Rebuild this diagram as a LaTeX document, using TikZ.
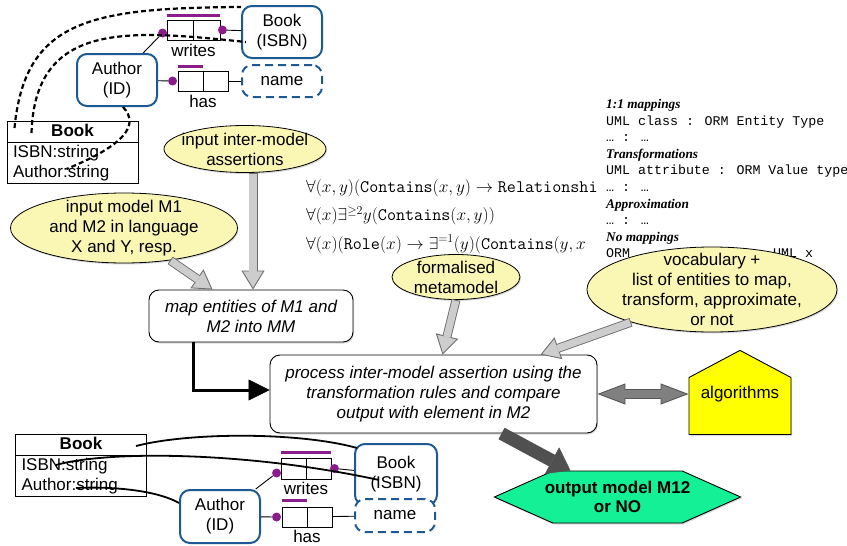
\documentclass[tikz,border=0pt]{standalone}
\usepackage{amsmath}
\usepackage{amssymb}
\usepackage[no-math]{fontspec}
\setmainfont{Liberation Sans}
\newfontfamily\courierfont{Liberation Mono}
\newfontfamily\timesfont{Liberation Serif}
\usepackage{tikz}
\usetikzlibrary{positioning, arrows.meta, shapes, shadows}

\definecolor{ormblue}{RGB}{31,89,148}
\definecolor{rolepurple}{RGB}{140,28,140}
\definecolor{noteyellow}{RGB}{250,246,180}
\definecolor{algyellow}{RGB}{255,255,0}
\definecolor{outgreen}{RGB}{20,240,150}
\definecolor{fatfill}{RGB}{205,205,205}
\definecolor{fatline}{RGB}{110,110,110}
\definecolor{dblfill}{RGB}{128,128,128}
\definecolor{dblline}{RGB}{85,85,85}
\definecolor{heavygrey}{RGB}{80,80,80}

\begin{document}
\begin{tikzpicture}[x=1pt, y=-1pt, font=\fontsize{17}{20}\selectfont]
\tikzstyle{orment}=[rectangle, draw=ormblue, line width=2pt, rounded corners=10pt, minimum width=80pt,
        minimum height=52pt, inner sep=0pt, align=center, fill=white]
\tikzstyle{ormval}=[orment, dash pattern=on 8pt off 5pt, minimum height=32pt]
\tikzstyle{role}=[rectangle, draw=black, line width=0.9pt, minimum width=52pt, minimum height=20pt, inner sep=0pt, fill=white]
\tikzstyle{rolename}=[inner sep=0pt]
\tikzstyle{dot}=[circle, fill=rolepurple, inner sep=0pt, minimum size=9pt]
\tikzstyle{uniq}=[rolepurple, line width=2.5pt]
\tikzstyle{ormline}=[-, line width=0.9pt]
\tikzstyle{umlclass}=[rectangle, rectangle split, rectangle split parts=2, draw=black, line width=1pt,
        text width=119pt, align=left, inner xsep=6pt, inner ysep=0pt, fill=white, anchor=north]
\tikzstyle{mapdash}=[-, line width=2.2pt, dash pattern=on 5pt off 3pt]
\tikzstyle{mapline}=[-, line width=1.8pt]
\tikzstyle{note}=[ellipse, draw=black, line width=0.8pt, fill=noteyellow, inner sep=-12pt, align=center,
        drop shadow={opacity=0.3, shadow xshift=1pt, shadow yshift=-1.5pt}]
\tikzstyle{task}=[rectangle, draw=black, line width=0.9pt, rounded corners=10pt, fill=white, align=center,
        inner sep=0pt, font=\fontsize{17}{20}\selectfont\itshape,
        drop shadow={opacity=0.3, shadow xshift=1pt, shadow yshift=-1.5pt}]
\tikzstyle{house}=[signal, signal to=north, signal from=nowhere, signal pointer angle=124, draw=black,
        line width=0.9pt, fill=algyellow, minimum width=102pt, text height=21pt, text depth=36pt, inner ysep=0pt,
        drop shadow={opacity=0.3, shadow xshift=1pt, shadow yshift=-1.5pt}]
\tikzstyle{hexa}=[signal, signal to=west and east, signal pointer angle=48, draw=black, line width=0.9pt,
        fill=outgreen, minimum height=52pt, inner ysep=0pt, inner xsep=-8pt, align=center,
        font=\fontsize{17}{19}\selectfont\bfseries,
        drop shadow={opacity=0.3, shadow xshift=1pt, shadow yshift=-1.5pt}]
\tikzstyle{fat}=[line width=9pt, draw=fatline,
        arrows={-Triangle[length=19pt, width=23pt, line width=0.9pt, fill=fatfill]},
        postaction={draw=fatfill, line width=7.2pt, -, shorten <=0.9pt, shorten >=18pt}]
\tikzstyle{dblfat}=[line width=10pt, draw=dblline,
        arrows={Triangle[length=28pt, width=21pt, line width=0.9pt, fill=dblfill]-Triangle[length=28pt, width=21pt, line width=0.9pt, fill=dblfill]},
        postaction={draw=dblfill, line width=8.2pt, -, shorten <=27pt, shorten >=27pt}]
\tikzstyle{heavy}=[line width=13pt, draw=heavygrey, arrows={-Triangle[length=21pt, width=30pt, line width=0.5pt]}]
\tikzstyle{flow}=[line width=3pt, arrows={-Triangle[length=21pt, width=21pt, line width=0.5pt]}]

\useasboundingbox (0,0) rectangle (847,546);

    \node (ubook) [umlclass] at (72.5,121){
            \makebox[119pt]{\strut\textbf{Book}}
            \nodepart{second}\strut ISBN:string\newline
            Author:string\strut
    };

    \node (bookorm) [orment] at (282,32) {Book\\(ISBN)};
    \node (auth) [orment] at (117,80) {Author\\(ID)};
    \node (nameval) [ormval] at (282,81) {name};
    \node (wr) [role, minimum width=53pt] at (193.5,30) {};
    \node (hs) [role, minimum width=50pt] at (203,81) {};
    \node (wrlbl) [rolename, below=4pt of wr] {writes};
    \node (hslbl) [rolename, below=4pt of hs] {has};
    \node (wrd1) [dot] at ([xshift=-4pt,yshift=-3pt]wr.west) {};
    \node (wrd2) [dot] at ([xshift=2pt]wr.east) {};
    \node (hsd) [dot] at ([xshift=-5pt]hs.west) {};

    \node (ubookb) [umlclass] at (81,434){
            \makebox[119pt]{\strut\textbf{Book}}
            \nodepart{second}\strut ISBN:string\newline
            Author:string\strut
    };

    \node (bookormb) [orment, minimum width=82pt, minimum height=61pt] at (396,474.5) {Book\\(ISBN)};
    \node (authb) [orment, minimum height=53pt] at (220,516.5) {Author\\(ID)};
    \node (namevalb) [ormval, minimum height=33pt] at (395,515.5) {name};
    \node (wrb) [role, minimum width=50pt, minimum height=21pt] at (306,468.5) {};
    \node (hsb) [role, minimum width=50pt] at (307,517) {};
    \node (wrblbl) [rolename, below=3pt of wrb] {writes};
    \node (hsblbl) [rolename, below=3pt of hsb] {has};
    \node (wrbd1) [dot] at ([xshift=-4pt,yshift=-4.5pt]wrb.west) {};
    \node (wrbd2) [dot] at ([xshift=3pt]wrb.east) {};
    \node (hsbd) [dot] at ([xshift=-5pt]hsb.west) {};

    \node (fol) [anchor=north west, inner sep=0pt, align=left, font=\fontsize{17.6}{28.5}\selectfont] at (306,179){
            $\forall(x,y)(\texttt{Contains}(x,y)\rightarrow\texttt{Relationshi}$\\
            $\forall(x)\exists^{\geq 2}y(\texttt{Contains}(x,y))$\\
            $\forall(x)(\texttt{Role}(x)\rightarrow\exists^{=1}(y)(\texttt{Contains}(y,x$
    };

    \node (maplist) [anchor=north west, inner sep=0pt, align=left, font=\fontsize{13.3}{16.6}\selectfont\courierfont] at (606,99){
            {\timesfont\bfseries\itshape 1:1 mappings}\\
            UML class : ORM Entity Type\\
            … : …\\
            {\timesfont\bfseries\itshape Transformations}\\
            UML attribute : ORM Value type\\
            … : …\\
            {\timesfont\bfseries\itshape Approximation}\\
            … : …\\
            {\timesfont\bfseries\itshape No mappings}\\
            ORM\hspace{143pt}UML x
    };

    \node (interm) [note, minimum width=162pt, minimum height=47pt] at (245,149) {input inter-model\\assertions};
    \node (inmodel) [note, minimum width=227pt, minimum height=70pt] at (124,228) {input model M1\\and M2 in language\\X and Y, resp.};
    \node (formal) [note, minimum width=128pt, minimum height=45pt] at (456,277) {formalised\\metamodel};
    \node (vocab) [note, minimum width=250pt, minimum height=85pt] at (712,289.5) {vocabulary +\\list of entities to map,\\transform, approximate,\\or not};

    \node (map) [task, minimum width=204pt, minimum height=52pt] at (251,316) {map entities of M1 and\\M2 into MM};
    \node (proc) [task, minimum width=327pt, minimum height=78pt] at (433.5,394) {process inter-model assertion using the\\transformation rules and compare\\output with element in M2};
    \node (alg) [house] at (740,406) {algorithms};
    \node (out) [hexa] at (617.5,497) {output model M12\\or NO};

\draw[ormline] (wr.north) -- (wr.south);
\draw[ormline] (hs.north) -- (hs.south);
\draw[uniq] ([yshift=4pt]wr.north west) -- ([yshift=4pt]wr.north east);
\draw[uniq] ([yshift=4pt]hs.north west) -- ([yshift=4pt]hs.north);
\draw[ormline] (auth) -- (wrd1);
\draw[ormline] (wrd2) -- (bookorm);
\draw[ormline] (auth) -- (hsd);
\draw[ormline] (hs) -- (nameval);

\draw[ormline] (wrb.north) -- (wrb.south);
\draw[ormline] (hsb.north) -- (hsb.south);
\draw[uniq] ([yshift=5pt]wrb.north west) -- ([yshift=5pt]wrb.north east);
\draw[uniq] ([yshift=6pt]hsb.north west) -- ([yshift=6pt]hsb.north);
\draw[ormline] (authb) -- (wrbd1);
\draw[ormline] (wrbd2) -- (bookormb);
\draw[ormline] (authb) -- (hsbd);
\draw[ormline] (hsb) -- (namevalb);

\draw[mapdash] ([xshift=8pt,yshift=-7pt]ubook.north west) .. controls (25,20) and (90,8) .. ([yshift=-2pt]bookorm.north west);
\draw[mapdash] ([xshift=25pt,yshift=-12pt]ubook.north west) .. controls (35,20) and (130,30) .. ([xshift=5pt,yshift=-10pt]bookorm.west);
\draw[mapdash] ([xshift=6pt]auth.south) .. controls (140,125) and (125,145) .. ([xshift=60pt,yshift=15pt]ubook.south west);

\draw[mapline] ([xshift=-11pt,yshift=-12pt]ubookb.north east) .. controls (190,432) and (300,432) .. ([xshift=3pt,yshift=-5pt]bookormb.north west);
\draw[mapline] ([xshift=41pt,yshift=-31pt]ubookb.north west) .. controls (110,450) and (250,452) .. ([xshift=25pt,yshift=-5.5pt]bookormb.west);
\draw[mapline] ([xshift=61pt,yshift=9pt]ubookb.south west) .. controls (120,486) and (160,492) .. ([yshift=-14pt]authb.north west);

\draw[fat] (inmodel.-35) -- ([xshift=64pt]map.north west);
\draw[fat] ([xshift=8pt]interm.south) -- ([xshift=8pt]interm.south |- map.north);
\draw[fat] (formal.south) -- ([xshift=9pt]proc.north);
\draw[fat] (vocab.-158) -- ([xshift=107pt]proc.north);
\draw[dblfat] (proc.east) -- (proc.east -| alg.west);
\draw[heavy] ([xshift=68pt]proc.south) -- ([xshift=-47pt]out.north);
\draw[flow] ([xshift=-58pt]map.south) |- ([yshift=4pt]proc.west);

\end{tikzpicture}
\end{document}
